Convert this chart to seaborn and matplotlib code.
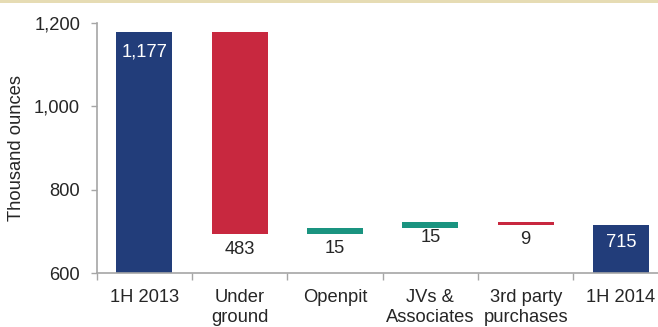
import numpy as np
import pandas as pd
import matplotlib
matplotlib.use("Agg")
import matplotlib.pyplot as plt
from matplotlib.patches import Rectangle
from matplotlib.ticker import FuncFormatter, FixedLocator
import seaborn as sns

# ---- data ----
categories = ["1H 2013", "Under\nground", "Openpit", "JVs &\nAssociates", "3rd party\npurchases", "1H 2014"]
changes = [1177, -483, 15, 15, -9, 715]
kinds = ["total", "delta", "delta", "delta", "delta", "total"]
value_labels = ["1,177", "483", "15", "15", "9", "715"]
y_ticks = [600, 800, 1000, 1200]

navy = "#223D7A"
red = "#C8283F"
green = "#1A9480"

# waterfall geometry from data
bottoms, heights, colors = [], [], []
running = 0
for c, k in zip(changes, kinds):
    if k == "total":
        bottoms.append(0)
        heights.append(c)
        running = c
        colors.append(navy)
    else:
        new = running + c
        bottoms.append(min(running, new))
        heights.append(abs(c))
        colors.append(green if c > 0 else red)
        running = new

df = pd.DataFrame({"cat": categories, "height": heights, "bottom": bottoms})

sns.set_theme(style="white")
plt.rcParams["font.family"] = ["Liberation Sans", "DejaVu Sans"]

fs = 13.2
fig = plt.figure(figsize=(6.58, 3.27), dpi=100)
ax = fig.add_axes([96.7 / 658, 1 - 273.3 / 327, 572 / 658, (273.3 - 22.7) / 327])

sns.barplot(data=df, x="cat", y="height", bottom=df["bottom"].values, width=0.59,
            color=navy, ax=ax, linewidth=0)
for p, col in zip(ax.patches, colors):
    p.set_facecolor(col)
    p.set_edgecolor(col)

ax.set_ylim(600, 1200)
ax.set_xlim(-0.5, len(categories) - 0.5)
ax.yaxis.set_major_locator(FixedLocator(y_ticks))
ax.yaxis.set_major_formatter(FuncFormatter(lambda v, _: f"{int(v):,}"))

txt_col = "#262626"
spine_col = "#A6A6A6"
for s in ["top", "right"]:
    ax.spines[s].set_visible(False)
for s in ["left", "bottom"]:
    ax.spines[s].set_color(spine_col)
    ax.spines[s].set_linewidth(1.2)

ax.tick_params(axis="y", which="major", left=True, length=4, width=1, color=spine_col,
               labelsize=fs, labelcolor=txt_col, pad=8)
ax.set_xticks(range(len(categories)))
ax.set_xticklabels(categories, linespacing=1.3)
ax.set_xticks(np.arange(-0.5, len(categories), 1.0), minor=True)
ax.tick_params(axis="x", which="major", length=0, labelsize=fs, labelcolor=txt_col, pad=11)
ax.tick_params(axis="x", which="minor", bottom=True, length=5, width=1, color=spine_col)
ax.set_xlabel("")
ax.set_ylabel("")

fig.text(17 / 658, 1 - 148 / 327, "Thousand ounces", rotation=90, ha="center", va="center",
         fontsize=fs, color=txt_col)

# value labels (offsets in pixels)
offsets = [-20, -15, -14, -10, -14, -17]
for i, (p, lab, k, off) in enumerate(zip(ax.patches, value_labels, kinds, offsets)):
    xc = p.get_x() + p.get_width() / 2
    if k == "total":
        yref = p.get_y() + p.get_height()
        col = "white"
    else:
        yref = p.get_y()
        col = txt_col
    ax.annotate(lab, (xc, yref), xytext=(0, off * 0.72), textcoords="offset points",
                ha="center", va="center", fontsize=fs, color=col)

# beige band on top
fig.patches.append(Rectangle((0, 1 - 3.2 / 327), 1, 3.2 / 327, transform=fig.transFigure,
                             facecolor="#E6DCB4", edgecolor="none", zorder=5))

fig.savefig("out.png", dpi=100)
